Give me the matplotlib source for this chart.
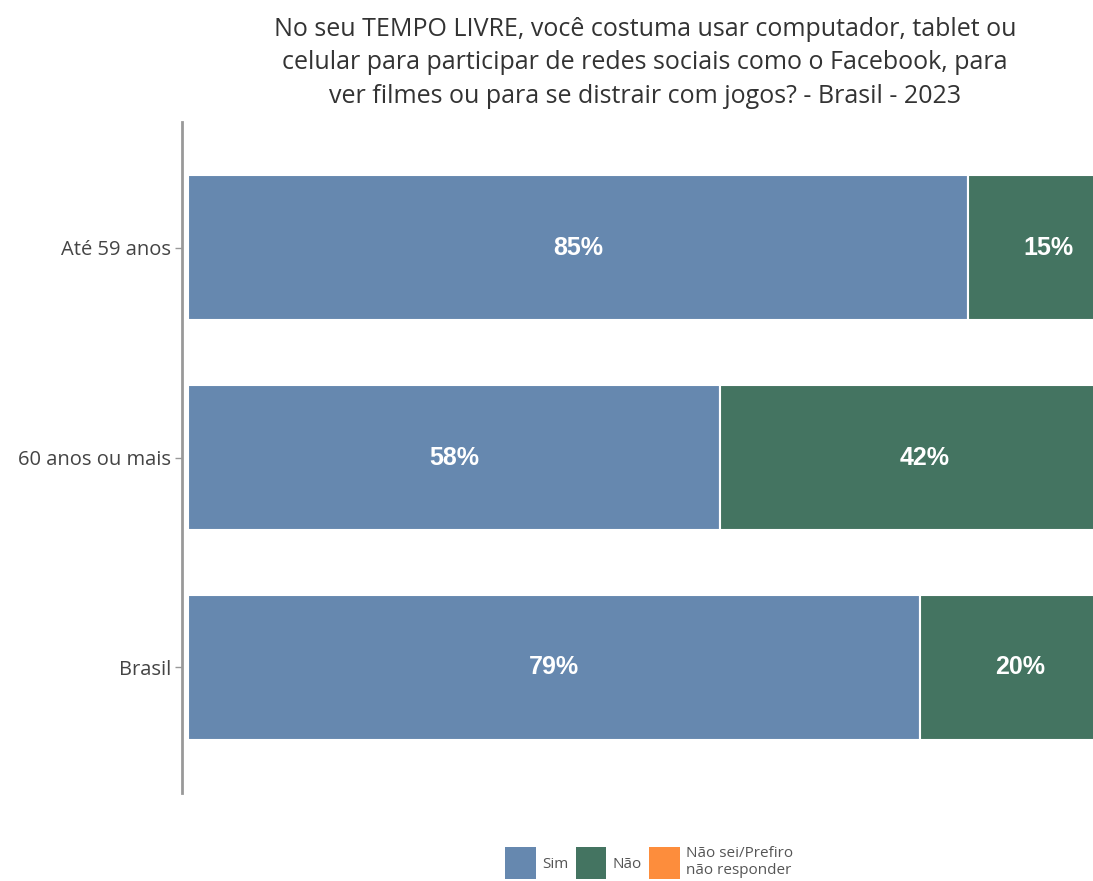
import matplotlib.pyplot as plt
from matplotlib.patches import Patch

# dados
categorias = ["Brasil", "60 anos ou mais", "Até 59 anos"]
sim = [79.7, 58, 85]
nao = [19.6, 42, 15]
nao_sei = [0.7, 0, 0]
rot_sim = ["79%", "58%", "85%"]
rot_nao = ["20%", "42%", "15%"]

cor_sim = "#6688AF"
cor_nao = "#447461"
cor_ns = "#FD8D3C"

plt.rcParams["font.family"] = ["Open Sans", "DejaVu Sans"]

fig = plt.figure(figsize=(10.93, 8.81), dpi=100)
ax = fig.add_axes([182 / 1093, 0.0999, 924 / 1093, 0.7616])

y = range(len(categorias))
ax.barh(y, sim, height=0.69, color=cor_sim, edgecolor="white", linewidth=1.5)
ax.barh(y, nao, left=sim, height=0.69, color=cor_nao, edgecolor="white", linewidth=1.5)
esq = [s + n for s, n in zip(sim, nao)]
ax.barh(y, nao_sei, left=esq, height=0.69, color=cor_ns, edgecolor="white", linewidth=1.5)

for i in y:
    ax.text(sim[i] / 2, i, rot_sim[i], ha="center", va="center", color="white",
            fontsize=18, fontweight="bold", family="Liberation Sans")
    ax.text(sim[i] + nao[i] / 2 + 1.2, i, rot_nao[i], ha="center", va="center", color="white",
            fontsize=18, fontweight="bold", family="Liberation Sans")

ax.set_xlim(-0.65, 100)
ax.set_ylim(-0.6, 2.6)
ax.set_yticks(list(y))
ax.set_yticklabels(categorias, fontsize=14.5, color="#444444")
ax.set_xticks([])
for s in ["top", "right", "bottom"]:
    ax.spines[s].set_visible(False)
ax.spines["left"].set_color("#999999")
ax.spines["left"].set_linewidth(2)
ax.tick_params(axis="y", length=5, width=1, color="#999999", pad=3)

fig.text(0.59, 0.981,
         "No seu TEMPO LIVRE, você costuma usar computador, tablet ou\n"
         "celular para participar de redes sociais como o Facebook, para\n"
         "ver filmes ou para se distrair com jogos? - Brasil - 2023",
         ha="center", va="top", fontsize=18, color="#333333", linespacing=1.45)

handles = [Patch(facecolor=cor_sim), Patch(facecolor=cor_nao), Patch(facecolor=cor_ns)]
fig.legend(handles, ["Sim", "Não", "Não sei/Prefiro\nnão responder"], loc="center",
           bbox_to_anchor=(0.594, 0.021), ncol=3, frameon=False, fontsize=11,
           handlelength=2.0, handleheight=2.8, handletextpad=0.4, columnspacing=0.5,
           labelcolor="#555555", labelspacing=0.2)

fig.savefig("out.png", dpi=100)
